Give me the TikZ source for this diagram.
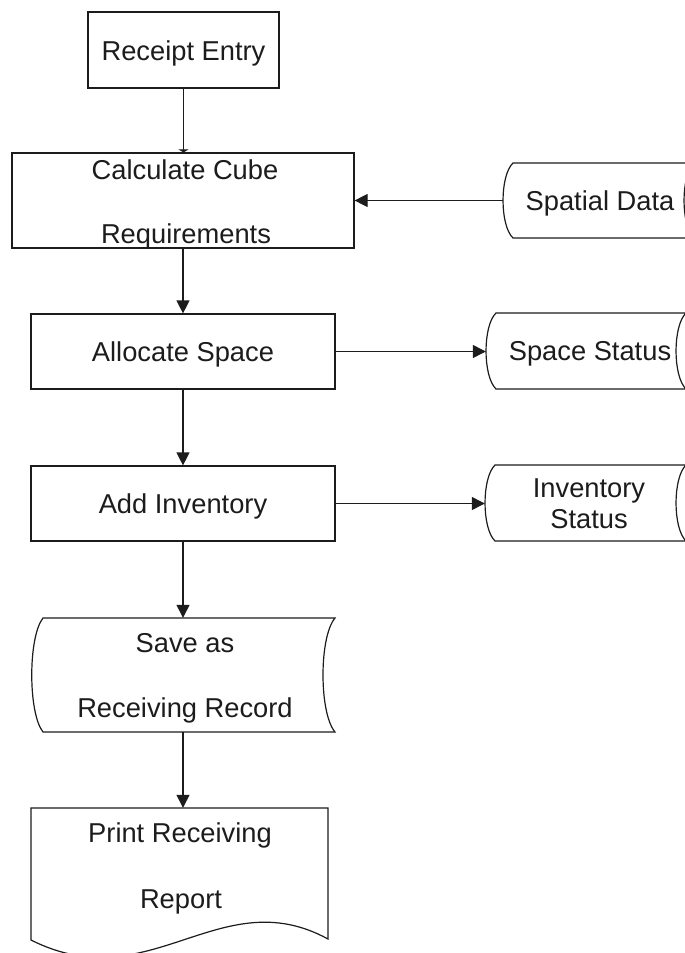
\documentclass[tikz,border=0pt]{standalone}
\usepackage{fontspec}
\setmainfont{Liberation Sans}
\usetikzlibrary{arrows.meta,calc}
\definecolor{ink}{HTML}{1C1C1C}
\tikzset{
  box/.style={draw=ink,line width=1.2pt,inner sep=0pt},
  area/.style={inner sep=0pt},
  outline/.style={draw=ink,line width=1.2pt,fill=none},
  lbl/.style={inner sep=0pt,text=ink,text height=20pt,text depth=0pt,font=\fontsize{27.3}{30}\selectfont},
  flow/.style={draw=ink,line width=1.2pt,-{Triangle[length=13pt,width=13pt]}},
  flatflow/.style={draw=ink,line width=1.2pt,-{Triangle[length=3pt,width=10pt]}}
}
\begin{document}
\begin{tikzpicture}[x=1pt,y=-1pt]
\useasboundingbox (0,0) rectangle (685,953);
\clip (0,0) rectangle (685,953);
% process boxes
\node[box,lbl,minimum width=191pt,minimum height=76pt] (re) at (183.5,50) {Receipt Entry};
\node[box,minimum width=342pt,minimum height=95pt] (calc) at (183,200.5) {};
\node[lbl] (calcA) at (185,169) {Calculate Cube};
\node[lbl] (calcB) at (186,233) {Requirements};
\node[box,lbl,minimum width=304pt,minimum height=75pt] (alloc) at (183,351.5) {Allocate Space};
\node[box,lbl,minimum width=304pt,minimum height=75pt] (add) at (183,503.5) {Add Inventory};
% stored data shapes
\node[area,minimum width=191pt,minimum height=75pt] (sd) at (598.5,200.5) {};
\draw[outline] (513,163) -- (694,163) .. controls (680.7,175.5) and (680.7,225.5) .. (694,238)
  -- (513,238) .. controls (499.7,225.5) and (499.7,175.5) .. cycle;
\node[lbl] (sdA) at (600,200) {Spatial Data};
\node[area,minimum width=200pt,minimum height=76pt] (ss) at (586,351) {};
\draw[outline] (496,313) -- (686,313) .. controls (672.7,325.7) and (672.7,376.3) .. (686,389)
  -- (496,389) .. controls (482.7,376.3) and (482.7,325.7) .. cycle;
\node[lbl] (ssA) at (590,350.5) {Space Status};
\node[area,minimum width=201pt,minimum height=76pt] (inv) at (585.5,503) {};
\draw[outline] (495,465) -- (686,465) .. controls (672.7,477.7) and (672.7,528.3) .. (686,541)
  -- (495,541) .. controls (481.7,528.3) and (481.7,477.7) .. cycle;
\node[lbl] (invA) at (589,487) {Inventory};
\node[lbl] (invB) at (589,518) {Status};
% save as receiving record
\node[area,minimum width=303pt,minimum height=114pt] (sr) at (183.5,675) {};
\draw[outline] (43,618) -- (335,618) .. controls (319,637) and (319,713) .. (335,732)
  -- (43,732) .. controls (28,713) and (28,637) .. cycle;
\node[lbl] (srA) at (185,642) {Save as};
\node[lbl] (srB) at (185,707) {Receiving Record};
% print receiving report (document)
\node[area,minimum width=297pt,minimum height=132pt] (pr) at (179.5,874) {};
\draw[outline] (31,808) -- (328,808) -- (328,939) .. controls (220,880) and (150,1000) .. (31,940) -- cycle;
\node[lbl] (prA) at (180,832.5) {Print Receiving};
\node[lbl] (prB) at (181,898) {Report};
% connectors
\draw[flatflow] (re.south) -- (re.south |- calc.north);
\draw[flow] (calc.south) -- (calc.south |- alloc.north);
\draw[flow] (alloc.south) -- (alloc.south |- add.north);
\draw[flow] (add.south) -- (add.south |- sr.north);
\draw[flow] (add.south |- sr.south) -- (add.south |- pr.north);
\draw[flow] (sd.west) -- (sd.west -| calc.east);
\draw[flow] (alloc.east) -- (alloc.east -| ss.west);
\draw[flow] (add.east) -- (add.east -| inv.west);
\end{tikzpicture}
\end{document}
